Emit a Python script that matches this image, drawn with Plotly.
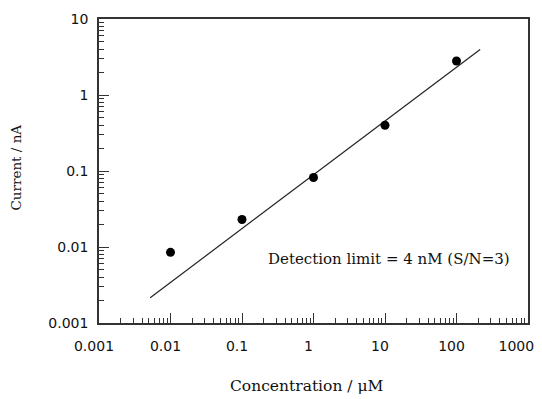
import plotly.graph_objects as go

conc = [0.01, 0.1, 1, 10, 100]
current = [0.0085, 0.023, 0.082, 0.40, 2.8]
fit_x = [0.0052, 214]
fit_y = [0.00215, 3.98]
x_ticks = [0.001, 0.01, 0.1, 1, 10, 100, 1000]
x_labels = ["0.001", "0.01", "0.1", "1", "10", "100", "1000"]
y_ticks = [0.001, 0.01, 0.1, 1, 10]
y_labels = ["0.001", "0.01", "0.1", "1", "10"]

serif = "DejaVu Serif, serif"
sans = "DejaVu Sans, sans-serif"

# keep the last x label inside the visible page edge
x_text = x_labels[:-1] + [x_labels[-1] + "\u00a0" * 3]

fig = go.Figure()
fig.add_trace(go.Scatter(x=fit_x, y=fit_y, mode="lines",
                         line=dict(color="#222", width=1.2), showlegend=False))
fig.add_trace(go.Scatter(x=conc, y=current, mode="markers",
                         marker=dict(color="black", size=9), showlegend=False))

axis_common = dict(type="log", showgrid=False, zeroline=False, showline=True,
                   linecolor="#333", linewidth=1.5, mirror=True, automargin=False,
                   ticks="inside", ticklen=10, tickwidth=1.2, tickcolor="#333",
                   ticklabeloverflow="allow",
                   minor=dict(ticks="inside", ticklen=5, tickwidth=1, tickcolor="#333",
                              dtick="D1", showgrid=False),
                   tickfont=dict(family=sans, size=14, color="#111"))

fig.update_xaxes(range=[-3, 3], tickvals=x_ticks, ticktext=x_text,
                 ticklabelstandoff=9, ticklabelshift=-5, **axis_common)
fig.update_yaxes(range=[-3, 1], tickvals=y_ticks, ticktext=y_labels,
                 ticklabelstandoff=6, **axis_common)

fig.add_annotation(text="Detection limit = 4 nM (S/N=3)", xref="paper", yref="paper",
                   x=0.676, y=0.2105, xanchor="center", yanchor="middle", showarrow=False,
                   font=dict(family=serif, size=15, color="#111"))
fig.add_annotation(text="Concentration / μM", xref="paper", yref="paper",
                   x=0.4837, y=-0.207, xanchor="center", yanchor="middle", showarrow=False,
                   font=dict(family=serif, size=15.5, color="#111"))
fig.add_annotation(text="Current / nA", xref="paper", yref="paper",
                   x=-0.1935, y=0.5115, textangle=-90, xanchor="center", yanchor="middle",
                   showarrow=False, font=dict(family=serif, size=13.5, color="#111"))

fig.update_layout(width=534, height=391, margin=dict(l=91, r=14, t=11, b=76, autoexpand=False),
                  plot_bgcolor="white", paper_bgcolor="white",
                  font=dict(family=serif, size=13, color="black"))

fig.write_html("out.html")
